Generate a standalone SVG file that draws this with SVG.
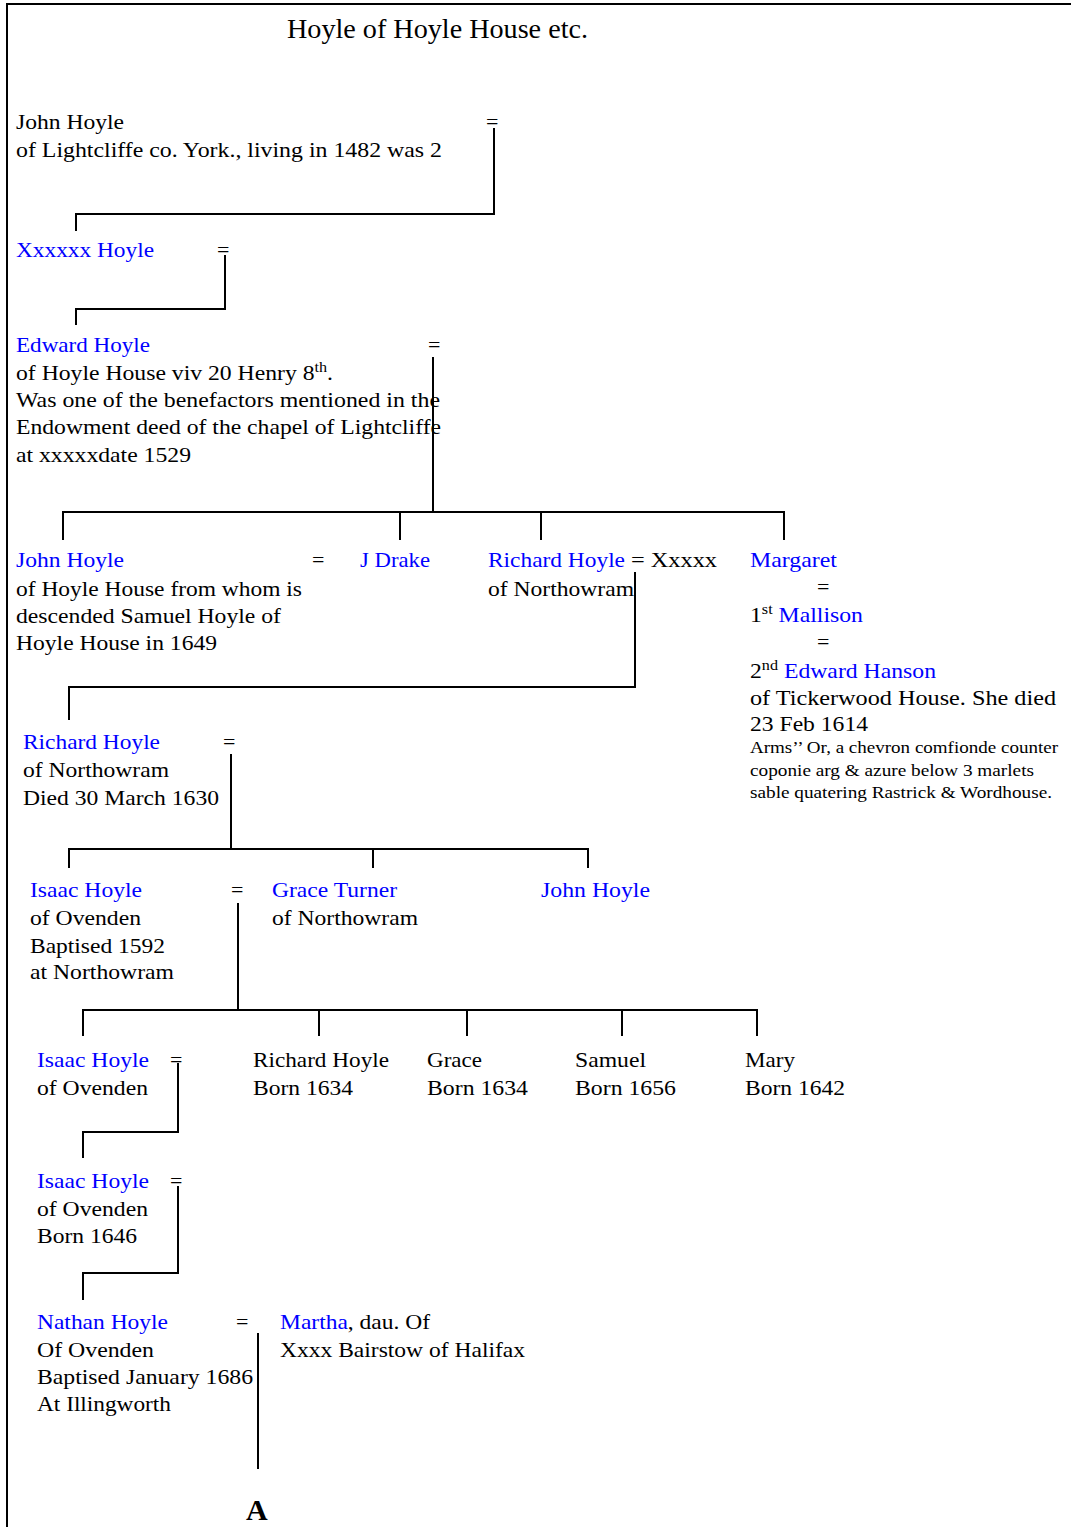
<svg xmlns="http://www.w3.org/2000/svg" width="1071" height="1527" viewBox="0 0 1071 1527">
<style>
text{font-family:"Liberation Serif","Times New Roman",serif;font-size:22px;fill:#000}
.b{fill:#0000ff}
.t{font-size:28px}
.s{font-size:17px}
.A{font-size:30px;font-weight:bold}
.sup{font-size:15px}
.c line,.c polyline{stroke:#000;stroke-width:2;fill:none}
</style>
<rect x="0" y="0" width="1071" height="1527" fill="#fff"/>
<polyline points="7,1527 7,4 1071,4" stroke="#000" stroke-width="2" fill="none"/>
<text class="t" x="287" y="38" textLength="301" lengthAdjust="spacingAndGlyphs">Hoyle of Hoyle House etc.</text>

<g id="connectors" class="c">
<polyline points="494,128 494,214 76,214 76,231"/>
<polyline points="225,255 225,309 76,309 76,325"/>
<line x1="433" y1="357" x2="433" y2="513"/>
<line x1="62" y1="512" x2="785" y2="512"/>
<line x1="63" y1="512" x2="63" y2="540"/>
<line x1="400" y1="512" x2="400" y2="540"/>
<line x1="541" y1="512" x2="541" y2="540"/>
<line x1="784" y1="512" x2="784" y2="540"/>
<polyline points="635,572 635,687 69,687 69,720"/>
<line x1="231" y1="754" x2="231" y2="850"/>
<line x1="68" y1="849" x2="589" y2="849"/>
<line x1="69" y1="849" x2="69" y2="868"/>
<line x1="373" y1="849" x2="373" y2="868"/>
<line x1="588" y1="849" x2="588" y2="868"/>
<line x1="238" y1="903" x2="238" y2="1011"/>
<line x1="82" y1="1010" x2="758" y2="1010"/>
<line x1="83" y1="1010" x2="83" y2="1036"/>
<line x1="319" y1="1010" x2="319" y2="1036"/>
<line x1="467" y1="1010" x2="467" y2="1036"/>
<line x1="622" y1="1010" x2="622" y2="1036"/>
<line x1="757" y1="1010" x2="757" y2="1036"/>
<polyline points="178,1063 178,1132 83,1132 83,1158"/>
<polyline points="178,1186 178,1273 83,1273 83,1300"/>
<line x1="258" y1="1333" x2="258" y2="1469"/>
</g>

<g id="john-hoyle-1482">
<text x="16" y="129" textLength="108" lengthAdjust="spacingAndGlyphs">John Hoyle</text>
<text x="16" y="157" textLength="426" lengthAdjust="spacingAndGlyphs">of Lightcliffe co. York., living in 1482 was 2</text>
<text x="486" y="129">=</text>
</g>

<g id="xxxxxx-hoyle">
<text class="b" x="16" y="257" textLength="138" lengthAdjust="spacingAndGlyphs">Xxxxxx Hoyle</text>
<text x="217" y="257">=</text>
</g>

<g id="edward-hoyle">
<text class="b" x="16" y="352" textLength="134" lengthAdjust="spacingAndGlyphs">Edward Hoyle</text>
<text x="428" y="352">=</text>
<text x="16" y="380" textLength="317" lengthAdjust="spacingAndGlyphs">of Hoyle House viv 20 Henry 8<tspan class="sup" dy="-8">th</tspan><tspan dy="8">.</tspan></text>
<text x="16" y="407" textLength="424" lengthAdjust="spacingAndGlyphs">Was one of the benefactors mentioned in the</text>
<text x="16" y="434" textLength="425" lengthAdjust="spacingAndGlyphs">Endowment deed of the chapel of Lightcliffe</text>
<text x="16" y="462" textLength="175" lengthAdjust="spacingAndGlyphs">at xxxxxdate 1529</text>
</g>

<g id="john-hoyle-hoyle-house">
<text class="b" x="16" y="567" textLength="108" lengthAdjust="spacingAndGlyphs">John Hoyle</text>
<text x="312" y="567">=</text>
<text x="16" y="596" textLength="286" lengthAdjust="spacingAndGlyphs">of Hoyle House from whom is</text>
<text x="16" y="623" textLength="265" lengthAdjust="spacingAndGlyphs">descended Samuel Hoyle of</text>
<text x="16" y="650" textLength="201" lengthAdjust="spacingAndGlyphs">Hoyle House in 1649</text>
</g>

<g id="j-drake">
<text class="b" x="360" y="567" textLength="70" lengthAdjust="spacingAndGlyphs">J Drake</text>
</g>

<g id="richard-hoyle-1">
<text class="b" x="488" y="567" textLength="137" lengthAdjust="spacingAndGlyphs">Richard Hoyle</text>
<text x="631" y="567" textLength="86" lengthAdjust="spacingAndGlyphs">= Xxxxx</text>
<text x="488" y="596" textLength="146" lengthAdjust="spacingAndGlyphs">of Northowram</text>
</g>

<g id="margaret">
<text class="b" x="750" y="567" textLength="87" lengthAdjust="spacingAndGlyphs">Margaret</text>
<text x="817" y="594">=</text>
<text x="750" y="622" textLength="113" lengthAdjust="spacingAndGlyphs">1<tspan class="sup" dy="-8">st</tspan><tspan class="b" dy="8"> Mallison</tspan></text>
<text x="817" y="649">=</text>
<text x="750" y="678" textLength="186" lengthAdjust="spacingAndGlyphs">2<tspan class="sup" dy="-8">nd</tspan><tspan class="b" dy="8"> Edward Hanson</tspan></text>
<text x="750" y="705" textLength="306" lengthAdjust="spacingAndGlyphs">of Tickerwood House.  She died</text>
<text x="750" y="731" textLength="118" lengthAdjust="spacingAndGlyphs">23 Feb 1614</text>
<text class="s" x="750" y="753" textLength="308" lengthAdjust="spacingAndGlyphs">Arms’’ Or, a chevron comfionde counter</text>
<text class="s" x="750" y="776" textLength="284" lengthAdjust="spacingAndGlyphs">coponie arg &amp; azure below 3 marlets</text>
<text class="s" x="750" y="798" textLength="302" lengthAdjust="spacingAndGlyphs">sable quatering Rastrick &amp; Wordhouse.</text>
</g>

<g id="richard-hoyle-1630">
<text class="b" x="23" y="749" textLength="137" lengthAdjust="spacingAndGlyphs">Richard Hoyle</text>
<text x="223" y="749">=</text>
<text x="23" y="777" textLength="146" lengthAdjust="spacingAndGlyphs">of Northowram</text>
<text x="23" y="805" textLength="196" lengthAdjust="spacingAndGlyphs">Died 30 March 1630</text>
</g>

<g id="isaac-hoyle-1592">
<text class="b" x="30" y="897" textLength="112" lengthAdjust="spacingAndGlyphs">Isaac Hoyle</text>
<text x="231" y="897">=</text>
<text x="30" y="925" textLength="111" lengthAdjust="spacingAndGlyphs">of Ovenden</text>
<text x="30" y="953" textLength="135" lengthAdjust="spacingAndGlyphs">Baptised 1592</text>
<text x="30" y="979" textLength="144" lengthAdjust="spacingAndGlyphs">at Northowram</text>
</g>

<g id="grace-turner">
<text class="b" x="272" y="897" textLength="125" lengthAdjust="spacingAndGlyphs">Grace Turner</text>
<text x="272" y="925" textLength="146" lengthAdjust="spacingAndGlyphs">of Northowram</text>
</g>

<g id="john-hoyle-3">
<text class="b" x="541" y="897" textLength="109" lengthAdjust="spacingAndGlyphs">John Hoyle</text>
</g>

<g id="isaac-hoyle-2">
<text class="b" x="37" y="1067" textLength="112" lengthAdjust="spacingAndGlyphs">Isaac Hoyle</text>
<text x="170" y="1067">=</text>
<text x="37" y="1095" textLength="111" lengthAdjust="spacingAndGlyphs">of Ovenden</text>
</g>

<g id="richard-hoyle-1634">
<text x="253" y="1067" textLength="136" lengthAdjust="spacingAndGlyphs">Richard Hoyle</text>
<text x="253" y="1095" textLength="100" lengthAdjust="spacingAndGlyphs">Born 1634</text>
</g>

<g id="grace-1634">
<text x="427" y="1067" textLength="55" lengthAdjust="spacingAndGlyphs">Grace</text>
<text x="427" y="1095" textLength="101" lengthAdjust="spacingAndGlyphs">Born 1634</text>
</g>

<g id="samuel-1656">
<text x="575" y="1067" textLength="71" lengthAdjust="spacingAndGlyphs">Samuel</text>
<text x="575" y="1095" textLength="101" lengthAdjust="spacingAndGlyphs">Born 1656</text>
</g>

<g id="mary-1642">
<text x="745" y="1067" textLength="50" lengthAdjust="spacingAndGlyphs">Mary</text>
<text x="745" y="1095" textLength="100" lengthAdjust="spacingAndGlyphs">Born 1642</text>
</g>

<g id="isaac-hoyle-1646">
<text class="b" x="37" y="1188" textLength="112" lengthAdjust="spacingAndGlyphs">Isaac Hoyle</text>
<text x="170" y="1188">=</text>
<text x="37" y="1216" textLength="111" lengthAdjust="spacingAndGlyphs">of Ovenden</text>
<text x="37" y="1243" textLength="100" lengthAdjust="spacingAndGlyphs">Born 1646</text>
</g>

<g id="nathan-hoyle">
<text class="b" x="37" y="1329" textLength="131" lengthAdjust="spacingAndGlyphs">Nathan Hoyle</text>
<text x="236" y="1329">=</text>
<text x="37" y="1357" textLength="117" lengthAdjust="spacingAndGlyphs">Of Ovenden</text>
<text x="37" y="1384" textLength="216" lengthAdjust="spacingAndGlyphs">Baptised January 1686</text>
<text x="37" y="1411" textLength="134" lengthAdjust="spacingAndGlyphs">At Illingworth</text>
</g>

<g id="martha">
<text x="280" y="1329" textLength="150" lengthAdjust="spacingAndGlyphs"><tspan class="b">Martha</tspan>, dau. Of</text>
<text x="280" y="1357" textLength="245" lengthAdjust="spacingAndGlyphs">Xxxx Bairstow of Halifax</text>
</g>

<g id="continuation-a">
<text class="A" x="246" y="1520">A</text>
</g>
</svg>
